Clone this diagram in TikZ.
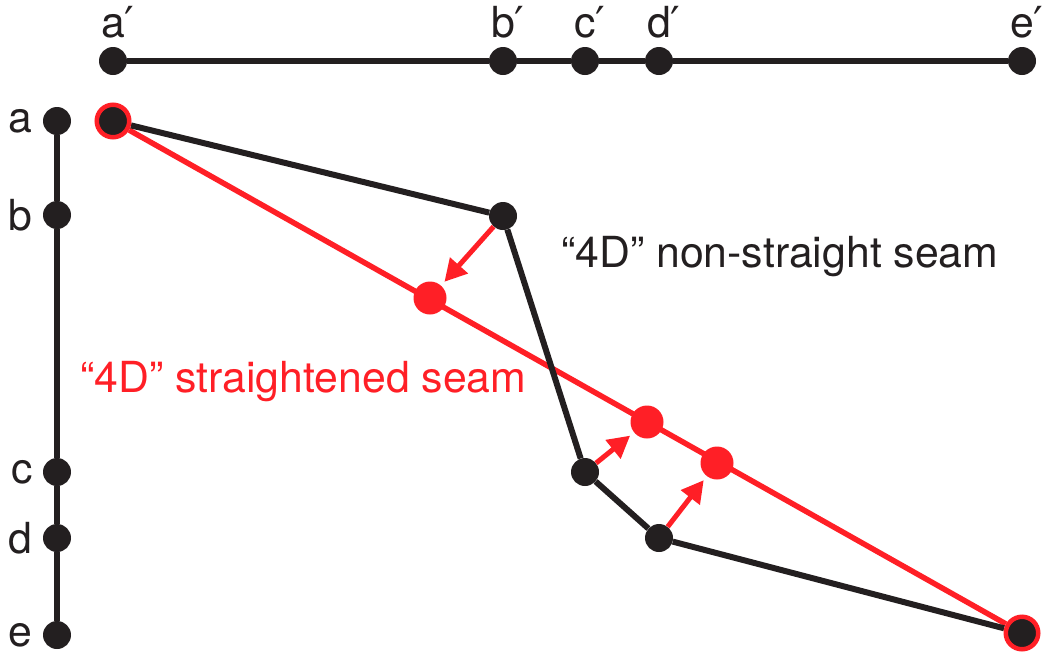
\documentclass[tikz,border=0pt]{standalone}
\usepackage{fontspec}
\setmainfont{TeX Gyre Heros}
\newfontfamily\primefont{DejaVu Sans}
\usetikzlibrary{arrows.meta,positioning,backgrounds}
\definecolor{tinta}{HTML}{231F20}
\definecolor{rojo}{HTML}{FF1F26}
\newcommand{\pr}{\rlap{\primefont ′}}

\begin{document}
\begin{tikzpicture}[x=1pt,y=-1pt,
  every node/.style={font=\fontsize{42.8}{50}\selectfont},
  bdot/.style={circle,fill=tinta,inner sep=0pt,minimum size=28pt},
  rdot/.style={circle,fill=rojo,inner sep=0pt,minimum size=33pt},
  ends/.style={circle,fill=tinta,draw=rojo,line width=4.5pt,inner sep=0pt,minimum size=32.5pt},
  lbl/.style={inner sep=0pt,text=tinta},
  seam/.style={tinta,line width=6pt,line join=round},
  fix/.style={rojo,line width=5.5pt},
  push/.style={rojo,line width=5pt,-{Triangle[length=22pt,width=23pt]},shorten >=5pt}]
        \useasboundingbox (0,0) rectangle (1044,654);
        % top axis
        \node[bdot] (ta) at (113,61) {};
        \node[bdot] (tb) at (503,61) {};
        \node[bdot] (tc) at (585,61) {};
        \node[bdot] (td) at (659,61) {};
        \node[bdot] (te) at (1022,61) {};
        \node[lbl,above=8pt of ta] (lta) {a\pr};
        \node[lbl,above=8pt of tb] (ltb) {b\pr};
        \node[lbl,above=8pt of tc] (ltc) {c\pr};
        \node[lbl,above=8pt of td] (ltd) {d\pr};
        \node[lbl,above=8pt of te] (lte) {e\pr};
        % left axis
        \node[bdot] (la) at (57,121) {};
        \node[bdot] (lb) at (57,215) {};
        \node[bdot] (lc) at (57,472) {};
        \node[bdot] (ld) at (57,538) {};
        \node[bdot] (le) at (57,635) {};
        \node[lbl,left=10pt of la] (lla) {a};
        \node[lbl,left=10pt of lb] (llb) {b};
        \node[lbl,left=10pt of lc] (llc) {c};
        \node[lbl,left=10pt of ld] (lld) {d};
        \node[lbl,left=10pt of le] (lle) {e};
        % seams
        \node[ends] (A) at (113,121) {};
        \node[bdot] (B) at (503,216) {};
        \node[bdot] (C) at (585,472) {};
        \node[bdot] (D) at (659,538) {};
        \node[ends] (E) at (1022,633) {};
        \node[rdot] (R1) at (430,298) {};
        \node[rdot] (R2) at (647,422) {};
        \node[rdot] (R3) at (717,463) {};
        \node[lbl,anchor=base west] (bent) at (561,267) {“4D” non-straight seam};
        \node[lbl,text=rojo,anchor=base west] (straight) at (80,392) {“4D” straightened seam};
        \begin{scope}[on background layer]
          \draw[seam] (ta) -- (tb) -- (tc) -- (td) -- (te);
          \draw[seam] (la) -- (lb) -- (lc) -- (ld) -- (le);
          \draw[fix] (A) -- (E);
          \draw[seam] (A) -- (B) -- (C) -- (D) -- (E);
        \end{scope}
        \draw[push] (B) -- (R1);
        \draw[push] (C) -- (R2);
        \draw[push] (D) -- (R3);
      \end{tikzpicture}
\end{document}
